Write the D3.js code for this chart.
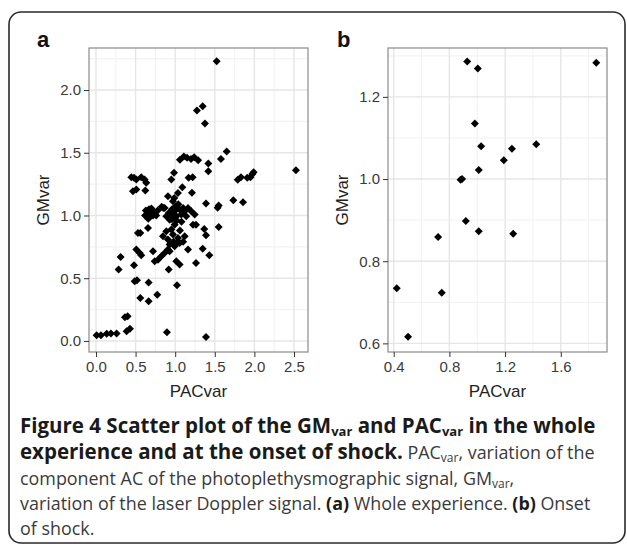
<!DOCTYPE html>
<html>
<head>
<meta charset="utf-8">
<script src="https://cdn.jsdelivr.net/npm/d3@7"></script>
<style>
  body { margin:0; background:#fff; }
  svg { display:block; }
  .tick text { font-family:"Liberation Sans", Arial, sans-serif; font-size:15px; fill:#3a3a3a; }
  .tick line { stroke:#333; }
</style>
</head>
<body>
<div id="grafico"></div>
<script>
// panel a : whole experience
const pacA = [1.524,1.347,1.275,1.376,1.650,1.578,1.418,1.418,2.525,
  1.79,1.83,1.91,1.95,1.975,1.99,
  1.389,1.536,1.549,1.734,1.856,1.549,1.367,1.389,1.263,1.347,1.431,1.263,1.389,
  1.06,1.11,1.15,1.20,1.24,1.29,
  0.446,0.48,0.509,0.572,0.614,0.635,0.467,0.509,0.623,
  0.985,0.951,1.17,1.22,1.09,1.035,0.989,0.909,0.972,0.867,1.212,0.83,0.85,
  0.62,0.63,0.65,0.67,0.68,0.70,0.72,0.74,0.76,0.66,0.70,0.78,
  0.888,0.93,0.951,0.993,1.014,1.056,1.077,1.12,1.14,1.162,1.203,1.246,1.225,0.993,0.951,0.888,
  0.972,1.035,1.12,1.056,0.93,0.993,0.846,0.909,0.53,0.56,0.657,
  1.00,1.04,0.96,1.10,0.92,1.02,1.08,1.06,0.98,1.02,1.10,0.96,
  0.509,0.551,0.572,0.72,0.783,0.825,0.867,0.909,0.741,0.93,1.014,1.056,0.918,1.162,
  0.311,0.286,0.48,0.488,0.518,0.665,0.56,0.665,0.774,1.023,
  0.008,0.063,0.135,0.189,0.261,0.366,0.40,0.387,0.429,0.896];
const gmA = [2.230,1.871,1.837,1.733,1.510,1.451,1.414,1.353,1.361,
  1.285,1.305,1.30,1.305,1.33,1.345,
  1.095,1.061,1.079,1.122,1.106,0.909,0.893,0.843,0.927,0.734,0.683,0.622,0.032,
  1.445,1.47,1.46,1.45,1.465,1.44,
  1.305,1.30,1.286,1.305,1.286,1.26,1.194,1.207,1.199,
  1.34,1.286,1.30,1.305,1.226,1.18,1.14,1.154,1.114,1.06,1.181,1.07,1.06,
  1.00,1.04,1.02,1.05,0.99,1.03,1.00,1.02,1.00,0.975,1.055,1.04,
  0.994,0.967,1.007,1.034,0.994,1.047,1.007,1.034,0.994,1.06,1.034,1.007,0.927,0.927,0.888,0.875,
  0.848,0.821,0.835,0.781,0.768,0.755,0.835,0.808,0.861,0.86,0.901,
  1.07,1.09,1.05,1.06,1.02,0.96,0.95,0.88,0.79,0.78,0.79,0.97,
  0.728,0.702,0.683,0.715,0.648,0.675,0.702,0.728,0.636,0.715,0.636,0.609,0.569,0.728,
  0.670,0.569,0.604,0.476,0.484,0.465,0.343,0.316,0.369,0.444,
  0.045,0.045,0.058,0.06,0.06,0.188,0.196,0.077,0.098,0.07];

// panel b : onset of shock
const pacB = [0.928,1.004,1.855,0.983,1.028,1.249,1.424,1.191,1.011,0.891,0.88,
  0.719,0.918,1.011,1.258,0.422,0.745,0.503];
const gmB = [1.286,1.269,1.283,1.135,1.080,1.074,1.085,1.046,1.022,1.0,0.998,
  0.859,0.898,0.873,0.867,0.734,0.723,0.616];

const xTicksA = [0,0.5,1,1.5,2,2.5];
const yTicksA = [0,0.5,1,1.5,2];
const xTicksB = [0.4,0.8,1.2,1.6];
const yTicksB = [0.6,0.8,1.0,1.2];

const W = 627, H = 547;
const svg = d3.select("#grafico").append("svg")
  .attr("width", W).attr("height", H);

// marco redondeado
svg.append("rect")
  .attr("x", 9).attr("y", 12).attr("width", 616).attr("height", 531)
  .attr("rx", 12).attr("ry", 12)
  .attr("fill", "none").attr("stroke", "#2a2a2a").attr("stroke-width", 1.6);

// tick extra para la grilla menor
function extraTick(t, side) {
  const s = t[1] - t[0];
  return side < 0 ? t[0] - s : t[t.length - 1] + s;
}

let panel = (o) => {
  const x = d3.scaleLinear().domain(o.xDom).range([o.left, o.right]);
  const y = d3.scaleLinear().domain(o.yDom).range([o.bottom, o.top]);
  const g = svg.append("g");

  // minor grid
  const minor = (t) => t.slice(0, -1).map((v, i) => (v + t[i + 1]) / 2);
  const xMin = minor([extraTick(o.xTicks, -1)].concat(o.xTicks, [extraTick(o.xTicks, 1)]))
    .filter(v => v > o.xDom[0] && v < o.xDom[1]);
  const yMin = minor([extraTick(o.yTicks, -1)].concat(o.yTicks, [extraTick(o.yTicks, 1)]))
    .filter(v => v > o.yDom[0] && v < o.yDom[1]);

  g.selectAll(".vmin").data(xMin).enter().append("line")
    .attr("x1", d => x(d)).attr("x2", d => x(d)).attr("y1", o.top).attr("y2", o.bottom)
    .attr("stroke", "#f3f3f3").attr("stroke-width", 1.2);
  g.selectAll(".hmin").data(yMin).enter().append("line")
    .attr("y1", d => y(d)).attr("y2", d => y(d)).attr("x1", o.left).attr("x2", o.right)
    .attr("stroke", "#f3f3f3").attr("stroke-width", 1.2);
  g.selectAll(".vmaj").data(o.xTicks).enter().append("line")
    .attr("x1", d => x(d)).attr("x2", d => x(d)).attr("y1", o.top).attr("y2", o.bottom)
    .attr("stroke", "#e6e6e6").attr("stroke-width", 1.4);
  g.selectAll(".hmaj").data(o.yTicks).enter().append("line")
    .attr("y1", d => y(d)).attr("y2", d => y(d)).attr("x1", o.left).attr("x2", o.right)
    .attr("stroke", "#e6e6e6").attr("stroke-width", 1.4);

  // puntos (diamante)
  const r = 4;
  g.selectAll(".pt").data(o.xs.map((v, i) => [v, o.ys[i]])).enter().append("path")
    .attr("d", d => `M${x(d[0])},${y(d[1]) - r}L${x(d[0]) + r},${y(d[1])}L${x(d[0])},${y(d[1]) + r}L${x(d[0]) - r},${y(d[1])}Z`)
    .attr("fill", "#000");

  // borde del panel
  g.append("rect")
    .attr("x", o.left).attr("y", o.top)
    .attr("width", o.right - o.left).attr("height", o.bottom - o.top)
    .attr("fill", "none").attr("stroke", "#8a8a8a").attr("stroke-width", 1.2);

  // ejes
  const fmt = d3.format(".1f");
  const ax = g.append("g").attr("transform", `translate(0,${o.bottom})`)
    .call(d3.axisBottom(x).tickValues(o.xTicks).tickFormat(fmt).tickSize(5).tickPadding(4));
  const ay = g.append("g").attr("transform", `translate(${o.left},0)`)
    .call(d3.axisLeft(y).tickValues(o.yTicks).tickFormat(fmt).tickSize(5).tickPadding(3));
  ax.select(".domain").remove();
  ay.select(".domain").remove();
  g.selectAll(".tick text").attr("font-family", null).attr("font-size", null);

  // titulos
  g.append("text")
    .attr("x", (o.left + o.right) / 2).attr("y", 397)
    .attr("text-anchor", "middle")
    .style("font-family", "'Liberation Sans', Arial, sans-serif").style("font-size", "17px").style("fill", "#222")
    .text("PACvar");
  g.append("text")
    .attr("transform", `translate(${o.left - 40},${(o.top + o.bottom) / 2}) rotate(-90)`)
    .attr("text-anchor", "middle")
    .style("font-family", "'Liberation Sans', Arial, sans-serif").style("font-size", "17px").style("fill", "#222")
    .text("GMvar");
  g.append("text")
    .attr("x", o.tagX).attr("y", 47)
    .style("font-family", "'Liberation Sans', Arial, sans-serif").style("font-size", "22px")
    .style("font-weight", "bold").style("fill", "#111")
    .text(o.tag);
};

panel({ xs: pacA, ys: gmA, xDom: [-0.088, 2.677], yDom: [-0.088, 2.335],
  left: 89, right: 308, top: 48, bottom: 352, xTicks: xTicksA, yTicks: yTicksA, tag: "a", tagX: 37 });
panel({ xs: pacB, ys: gmB, xDom: [0.359, 1.932], yDom: [0.579, 1.319],
  left: 388, right: 607, top: 48, bottom: 352, xTicks: xTicksB, yTicks: yTicksB, tag: "b", tagX: 337 });

// pie de figura
const cap = svg.append("text")
  .style("font-family", "'Open Sans', sans-serif").style("font-size", "17.9px").style("fill", "#3a3a3a");

const lines = [
  [["b","Figure 4 Scatter plot of the GM"],["bs","var"],["b"," and PAC"],["bs","var"],["b"," in the whole"]],
  [["b","experience and at the onset of shock."],["n"," PAC"],["s","var"],["n",", variation of the"]],
  [["n","component AC of the photoplethysmographic signal, GM"],["s","var"],["n",","]],
  [["n","variation of the laser Doppler signal. "],["b","(a)"],["n"," Whole experience. "],["b","(b)"],["n"," Onset"]],
  [["n","of shock."]]
];
const base = [433, 459, 485, 510, 535];

lines.forEach((ln, i) => {
  ln.forEach((p, j) => {
    const t = cap.append("tspan").text(p[1]);
    if (j === 0) t.attr("x", 20).attr("y", base[i]);
    if (p[0] === "b") t.style("font-weight", "bold").style("fill", "#1a1a1a");
    if (p[0] === "bs") t.style("font-weight", "bold").style("fill", "#1a1a1a").style("font-size", "13px");
    if (p[0] === "b" && ln[0][0] === "b" && i < 2) t.style("font-size", "20.5px");
    if (p[0] === "s") t.style("font-size", "12px");
    if (p[0] === "s" || p[0] === "bs") t.attr("dy", 3);
    else if (j > 0 && (ln[j - 1][0] === "s" || ln[j - 1][0] === "bs")) t.attr("dy", -3);
  });
});
</script>
</body>
</html>
